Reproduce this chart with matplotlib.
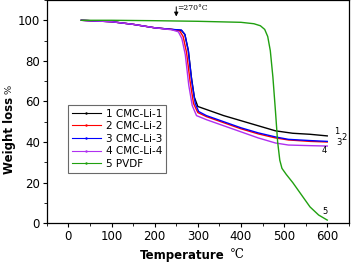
import matplotlib
matplotlib.use("Agg")
import matplotlib.pyplot as plt
from matplotlib.lines import Line2D

# temperatures (deg C) and weight (%)
t1 = [30, 100, 150, 200, 240, 262, 270, 278, 285, 292, 300, 320, 360, 400, 440, 480, 520, 560, 600]
w1 = [100, 99.3, 98, 96.3, 95.5, 95, 93, 85, 72, 62, 57.5, 56, 53, 50.5, 48, 45.5, 44.3, 43.8, 43]

t2 = [30, 100, 150, 200, 240, 258, 266, 274, 282, 290, 300, 320, 360, 400, 440, 480, 510, 560, 600]
w2 = [100, 99.3, 98, 96.3, 95.5, 94.8, 92, 84, 70, 59, 54.5, 52.5, 49.5, 46.5, 44, 42, 41, 40.3, 40]

t3 = [30, 100, 150, 200, 240, 262, 270, 278, 286, 294, 302, 320, 360, 400, 440, 480, 510, 560, 600]
w3 = [100, 99.3, 98, 96.3, 95.5, 95.2, 93, 85, 70, 59, 55, 53, 50, 47, 44.5, 42.5, 41.3, 40.7, 40.3]

t4 = [30, 100, 150, 200, 240, 255, 263, 271, 279, 287, 297, 320, 360, 400, 440, 480, 510, 560, 600]
w4 = [100, 99.3, 98, 96.3, 95.3, 94.3, 91, 83, 68, 58, 53, 51, 48, 45, 42, 39.5, 38.5, 38.2, 38]

t5 = [30, 100, 200, 300, 400, 430, 445, 455, 462, 468, 474, 480, 485, 490, 495, 505, 520, 540, 560, 580, 600]
w5 = [100, 100, 99.8, 99.5, 99, 98.3, 97.3, 95.5, 92, 85, 72, 55, 40, 31, 27, 24, 20, 14, 8, 4, 1.5]

labels = ["1 CMC-Li-1", "2 CMC-Li-2", "3 CMC-Li-3", "4 CMC-Li-4", "5 PVDF"]
colors = ["black", "red", "blue", "#b030f0", "#20a010"]

fig = plt.figure(figsize=(3.52, 2.65), dpi=100)
ax = fig.add_axes([0.133, 0.158, 0.858, 0.842])

series = [(t1, w1), (t2, w2), (t3, w3), (t4, w4), (t5, w5)]
for (t, w), c in zip(series, colors):
    ax.plot(t, w, color=c, lw=1.0)

ax.set_xlim(-50, 650)
ax.set_ylim(0, 110)
ax.set_xticks([0, 100, 200, 300, 400, 500, 600])
ax.set_xticks(range(-50, 651, 50), minor=True)
ax.set_yticks([0, 20, 40, 60, 80, 100])
ax.set_yticks(range(0, 111, 10), minor=True)
ax.tick_params(direction="out", labelsize=8.5, length=3, width=0.8, pad=2)
ax.tick_params(which="minor", direction="out", length=2, width=0.6)

for s in ax.spines.values():
    s.set_linewidth(0.9)

# axis titles: bold words, unit in a plain serif face
ax.text(0.59, -0.115, "Temperature", transform=ax.transAxes, fontsize=8.5,
        fontweight="bold", ha="right", va="top")
ax.text(0.605, -0.11, "\u00b0C", transform=ax.transAxes, fontsize=8.5,
        family="serif", ha="left", va="top")
ax.text(-0.125, 0.395, "Weight loss", transform=ax.transAxes, fontsize=8.5,
        fontweight="bold", rotation=90, ha="center", va="center")
ax.text(-0.125, 0.6, "%", transform=ax.transAxes, fontsize=7,
        family="serif", rotation=90, ha="center", va="center")

ax.annotate("", xy=(250, 100.5), xytext=(250, 108),
            arrowprops=dict(arrowstyle="-|>", color="black", lw=0.7, mutation_scale=6))
ax.text(252, 106, "=270\u00b0C", fontsize=5.5, family="serif", va="center")

ax.text(616, 44, "1", fontsize=6)
ax.text(632, 41, "2", fontsize=6)
ax.text(620, 38.5, "3", fontsize=6)
ax.text(588, 34.5, "4", fontsize=6)
ax.text(589, 4.5, "5", fontsize=6)

handles = [Line2D([], [], color=c, lw=0.8, marker=".", markersize=1.5) for c in colors]
leg = ax.legend(handles, labels, loc="upper left", bbox_to_anchor=(0.07, 0.53), fontsize=7.5,
                frameon=True, fancybox=False, edgecolor="#444444", handlelength=2.8,
                numpoints=1, borderpad=0.35, labelspacing=0.25, handletextpad=0.5,
                borderaxespad=0)
leg.get_frame().set_linewidth(0.8)

fig.savefig("out.png", dpi=100)
